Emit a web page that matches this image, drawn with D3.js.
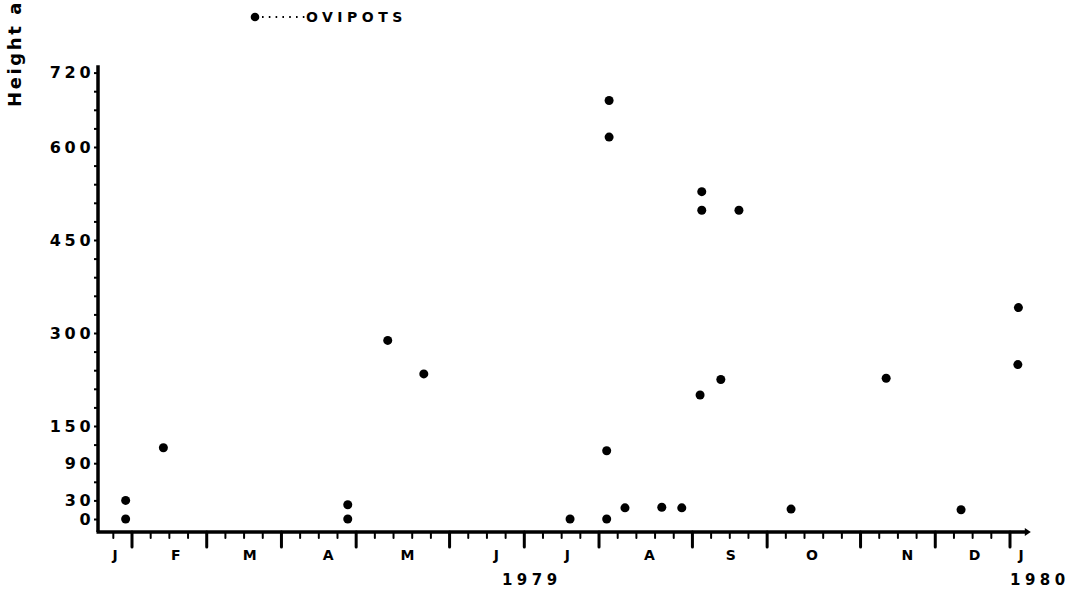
<!DOCTYPE html>
<html>
<head>
<meta charset="utf-8">
<script src="https://cdn.jsdelivr.net/npm/d3@7"></script>
<style>
  html, body { margin: 0; padding: 0; background: #fff; }
  svg { display: block; }
  text { font-family: "DejaVu Sans", "Liberation Sans", Arial, sans-serif; font-weight: bold; fill: #000; }
</style>
</head>
<body>
<svg id="chart" width="1081" height="590"></svg>
<script>
// ---- Data (x in week units of the 1979 axis; Feb 1 = week 2) ----
const monthLabels = ["J", "F", "M", "A", "M", "J", "J", "A", "S", "O", "N", "D", "J"];
const monthLabelWeeks = [1.1, 4.35, 8.3, 12.5, 16.75, 21.5, 25.3, 29.7, 34.05, 38.4, 43.5, 47.1, 49.6];
const monthStartWeeks = [2, 6, 10, 14, 19, 23, 27, 32, 36, 41, 45, 49];
const yearLabels = ["1979", "1980"];
const yearLabelWeeks = [23.4, 50.6];
const yTickLabels = [0, 30, 90, 150, 300, 450, 600, 720];
const legendLabel = "OVIPOTS";
const yTitle = "Height above ground (cm)";

const obsWeek = [1.66, 1.66, 3.68, 13.55, 13.55, 15.69, 17.62, 25.45, 27.54, 27.54, 27.41, 27.41,
                 28.39, 30.36, 31.43, 32.5, 32.5, 34.49, 33.52, 32.41, 37.28, 42.37, 46.38, 49.45, 49.42];
const obsHeight = [30, 0, 115, 23, 0, 288, 234, 0, 675, 616, 110, 0,
                   18, 19, 18, 528, 498, 498, 225, 200, 16, 227, 15, 341, 249];

// ---- Scales ----
const x = d3.scaleLinear().domain([2, 49]).range([132, 1010]);
const y = d3.scaleLinear().domain([0, 720]).range([519, 72.6]);
const xStart = 0.18, xEnd = 49.9;
const yBottom = -21, yTop = 732;

const svg = d3.select("#chart");

// ---- Y axis ----
const yAxis = d3.axisLeft(y)
  .tickValues(d3.range(0, 721, 30))
  .tickSize(4)
  .tickPadding(3)
  .tickFormat(d => yTickLabels.includes(d) ? d : "");
const gy = svg.append("g").attr("transform", `translate(${x(xStart)},0)`).call(yAxis);
gy.select(".domain").remove();
gy.selectAll(".tick line").attr("stroke", "#000").attr("stroke-width", 2);
gy.selectAll(".tick text")
  .attr("font-size", 16)
  .attr("letter-spacing", 3.8)
  .attr("dx", 3.5)
  .style("font-family", "'DejaVu Sans', 'Liberation Sans', Arial, sans-serif")
  .style("font-weight", "bold");

svg.append("line")
  .attr("x1", x(xStart)).attr("x2", x(xStart))
  .attr("y1", y(yBottom)).attr("y2", y(yTop))
  .attr("stroke", "#000").attr("stroke-width", 3.5);

// ---- X axis ----
const axisY = y(yBottom);
svg.append("line")
  .attr("x1", x(xStart) - 1.5).attr("x2", x(xEnd))
  .attr("y1", axisY).attr("y2", axisY)
  .attr("stroke", "#000").attr("stroke-width", 3.5);
svg.append("path")
  .attr("d", `M${x(xEnd) - 2},${axisY - 4} L${x(xEnd) + 4},${axisY} L${x(xEnd) - 2},${axisY + 4} Z`)
  .attr("fill", "#000");

const weekTicks = d3.range(1, 50);
svg.append("g").selectAll("line").data(weekTicks).join("line")
  .attr("x1", d => x(d)).attr("x2", d => x(d))
  .attr("y1", axisY)
  .attr("y2", d => axisY + (monthStartWeeks.includes(d) ? 15 : 6))
  .attr("stroke", "#000")
  .attr("stroke-width", d => monthStartWeeks.includes(d) ? 3 : 2)
  .attr("stroke-linecap", "round");

svg.append("g").selectAll("text").data(monthLabels).join("text")
  .attr("x", (d, i) => x(monthLabelWeeks[i]))
  .attr("y", 560)
  .attr("text-anchor", "middle")
  .attr("font-size", 14)
  .text(d => d);

svg.append("g").selectAll("text").data(yearLabels).join("text")
  .attr("x", (d, i) => x(yearLabelWeeks[i]))
  .attr("y", 585)
  .attr("text-anchor", "middle")
  .attr("font-size", 15)
  .attr("letter-spacing", 4.5)
  .text(d => d);

// ---- Y title (clipped at top, as in the original) ----
svg.append("text")
  .attr("transform", "translate(21,107) rotate(-90)")
  .attr("font-size", 18)
  .attr("letter-spacing", 2.6)
  .text(yTitle);

// ---- Legend ----
svg.append("circle").attr("cx", 255).attr("cy", 17).attr("r", 4.3).attr("fill", "#000");
svg.append("line").attr("x1", 262).attr("x2", 305).attr("y1", 17).attr("y2", 17)
  .attr("stroke", "#000").attr("stroke-width", 2).attr("stroke-dasharray", "1.6 5.2");
svg.append("text").attr("x", 306).attr("y", 22).attr("font-size", 14)
  .attr("letter-spacing", 4.5).text(legendLabel);

// ---- Points ----
svg.append("g").selectAll("circle").data(obsWeek).join("circle")
  .attr("cx", (d, i) => x(d))
  .attr("cy", (d, i) => y(obsHeight[i]))
  .attr("r", 4.5)
  .attr("fill", "#000");
</script>
</body>
</html>
